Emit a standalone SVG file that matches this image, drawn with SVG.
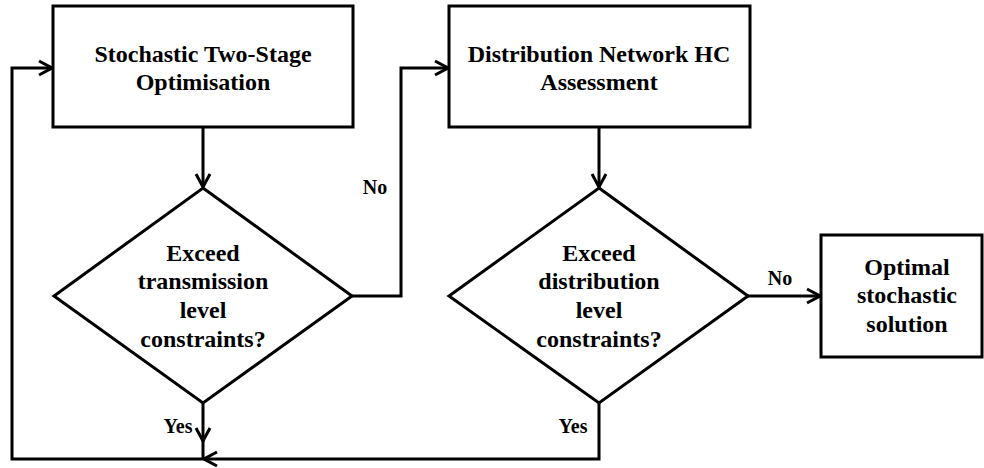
<svg xmlns="http://www.w3.org/2000/svg" width="984" height="468" viewBox="0 0 984 468">
<style>
.shape{fill:#fff;stroke:#000;stroke-width:3}
.t{font-family:"Liberation Serif","Times New Roman",serif;font-weight:bold;font-size:24px;fill:#000;text-anchor:middle}
.lbl{font-family:"Liberation Serif","Times New Roman",serif;font-weight:bold;font-size:20px;fill:#000;text-anchor:middle}
.c{fill:none;stroke:#000;stroke-width:3}
</style>
<defs>
<marker id="arr" viewBox="0 0 16 18" refX="14.5" refY="9" markerWidth="16" markerHeight="18" markerUnits="userSpaceOnUse" orient="auto">
<path d="M1.5,2 L14.5,9 L1.5,16" fill="none" stroke="#000" stroke-width="3"/>
</marker>
</defs>
<rect width="984" height="468" fill="#fff"/>
<g id="connectors">
<path class="c" d="M203,127 V187" marker-end="url(#arr)"/>
<path class="c" d="M599,127 V187" marker-end="url(#arr)"/>
<path class="c" d="M352,296 H401 V68 H448" marker-end="url(#arr)"/>
<path class="c" d="M748,296 H820" marker-end="url(#arr)"/>
<path class="c" d="M203,403 V441" marker-end="url(#arr)"/>
<path class="c" d="M203,440 V459 H12 V68 H52" marker-end="url(#arr)"/>
<path class="c" d="M599,403 V459 H204" marker-end="url(#arr)"/>
<text class="lbl" x="375" y="194">No</text>
<text class="lbl" x="780" y="285">No</text>
<text class="lbl" x="178" y="433">Yes</text>
<text class="lbl" x="573" y="433">Yes</text>
</g>
<g id="stochastic-optimisation">
<rect class="shape" x="53" y="6" width="300" height="121"/>
<text class="t" x="203" y="62">Stochastic Two-Stage</text>
<text class="t" x="203" y="90">Optimisation</text>
</g>
<g id="transmission-check">
<polygon class="shape" points="203,188 352,296 203,403 54,296"/>
<text class="t" x="203" y="261">Exceed</text>
<text class="t" x="203" y="289">transmission</text>
<text class="t" x="203" y="318">level</text>
<text class="t" x="203" y="347">constraints?</text>
</g>
<g id="distribution-assessment">
<rect class="shape" x="449" y="6" width="301" height="121"/>
<text class="t" x="599" y="62">Distribution Network HC</text>
<text class="t" x="599" y="90">Assessment</text>
</g>
<g id="distribution-check">
<polygon class="shape" points="599,188 748,296 599,403 449,296"/>
<text class="t" x="599" y="261">Exceed</text>
<text class="t" x="599" y="289">distribution</text>
<text class="t" x="599" y="318">level</text>
<text class="t" x="599" y="347">constraints?</text>
</g>
<g id="optimal-solution">
<rect class="shape" x="821" y="235" width="161" height="122"/>
<text class="t" x="907" y="275">Optimal</text>
<text class="t" x="907" y="303">stochastic</text>
<text class="t" x="907" y="332">solution</text>
</g>
</svg>
